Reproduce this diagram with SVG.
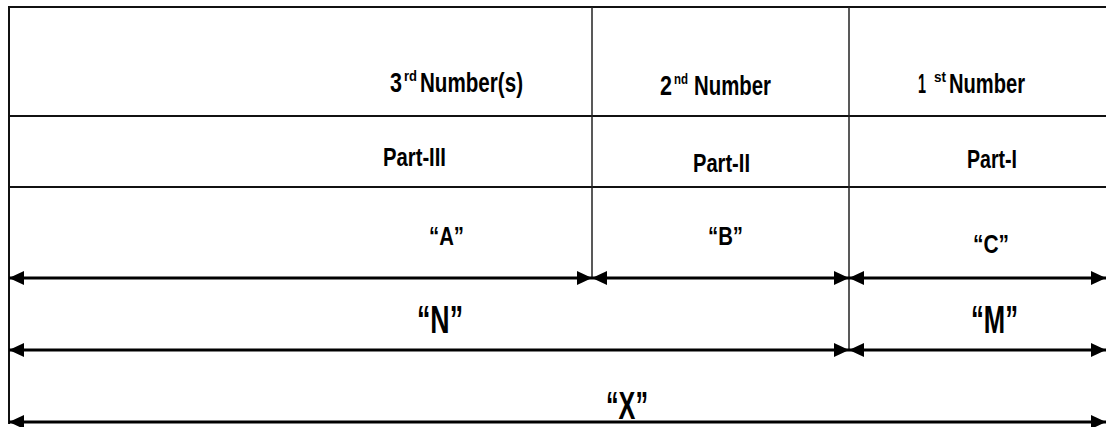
<svg xmlns="http://www.w3.org/2000/svg" width="1106" height="427" viewBox="0 0 1106 427">
<style>
.tl{stroke:#111;stroke-width:2;fill:none}
.vl{stroke:#222;stroke-width:1.5;fill:none}
.ar{stroke:#000;stroke-width:3;fill:none;marker-start:url(#ah);marker-end:url(#ah)}
text{font-family:"Liberation Sans",Arial,sans-serif;font-weight:bold;fill:#000}
.h{font-size:27px}
.p{font-size:25px}
.l{font-size:25px}
.b{font-size:38px}
.sup{font-size:15px}
</style>
<defs>
<marker id="ah" viewBox="0 0 15 14" refX="15" refY="7" markerWidth="15" markerHeight="14" markerUnits="userSpaceOnUse" orient="auto-start-reverse">
<path d="M0,0 L15,7 L0,14 Z" fill="#000"/>
</marker>
</defs>
<g id="table">
<line class="tl" x1="9" y1="7" x2="1106" y2="7"/>
<line class="tl" x1="9" y1="116" x2="1106" y2="116"/>
<line class="tl" x1="9" y1="187" x2="1106" y2="187"/>
<line class="tl" x1="9" y1="6" x2="9" y2="424"/>
<line class="vl" x1="592" y1="7" x2="592" y2="278"/>
<line class="vl" x1="849" y1="7" x2="849" y2="350"/>
</g>
<g id="header-3rd">
<text class="h" x="390" y="92" textLength="12" lengthAdjust="spacingAndGlyphs">3</text>
<text class="sup" x="404" y="81" textLength="13" lengthAdjust="spacingAndGlyphs">rd</text>
<text class="h" x="420" y="92" textLength="103" lengthAdjust="spacingAndGlyphs">Number(s)</text>
</g>
<g id="header-2nd">
<text class="h" x="660" y="95" textLength="12" lengthAdjust="spacingAndGlyphs">2</text>
<text class="sup" x="674" y="84" textLength="14" lengthAdjust="spacingAndGlyphs">nd</text>
<text class="h" x="694" y="95" textLength="77" lengthAdjust="spacingAndGlyphs">Number</text>
</g>
<g id="header-1st">
<text class="h" x="918" y="93" textLength="8" lengthAdjust="spacingAndGlyphs">1</text>
<text class="sup" x="934" y="82" textLength="12" lengthAdjust="spacingAndGlyphs">st</text>
<text class="h" x="949" y="93" textLength="76" lengthAdjust="spacingAndGlyphs">Number</text>
</g>
<g id="parts">
<text class="p" x="383" y="166" textLength="63" lengthAdjust="spacingAndGlyphs">Part-III</text>
<text class="p" x="693" y="172" textLength="57" lengthAdjust="spacingAndGlyphs">Part-II</text>
<text class="p" x="967" y="168" textLength="50" lengthAdjust="spacingAndGlyphs">Part-I</text>
</g>
<g id="labels">
<text class="l" x="429" y="245" textLength="35" lengthAdjust="spacingAndGlyphs">“A”</text>
<text class="l" x="708" y="245" textLength="35" lengthAdjust="spacingAndGlyphs">“B”</text>
<text class="l" x="973" y="253" textLength="36" lengthAdjust="spacingAndGlyphs">“C”</text>
<text class="b" x="417" y="333" textLength="46" lengthAdjust="spacingAndGlyphs">“N”</text>
<text class="b" x="971" y="333" textLength="47" lengthAdjust="spacingAndGlyphs">“M”</text>
<text class="b" x="606" y="419" textLength="42" lengthAdjust="spacingAndGlyphs">“X”</text>
</g>
<g id="connectors">
<line class="ar" x1="9" y1="278" x2="592" y2="278"/>
<line class="ar" x1="592" y1="278" x2="849" y2="278"/>
<line class="ar" x1="849" y1="278" x2="1106" y2="278"/>
<line class="ar" x1="9" y1="350" x2="849" y2="350"/>
<line class="ar" x1="849" y1="350" x2="1106" y2="350"/>
<line class="ar" x1="9" y1="422" x2="1106" y2="422"/>
</g>
</svg>
